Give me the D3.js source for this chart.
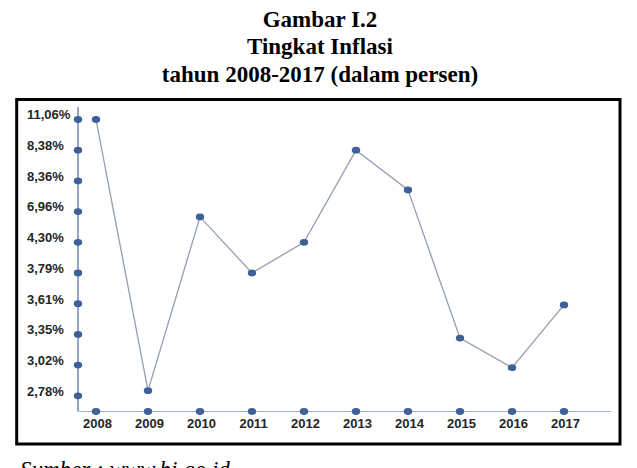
<!DOCTYPE html>
<html>
<head>
<meta charset="utf-8">
<script src="https://cdn.jsdelivr.net/npm/d3@7"></script>
<style>
    body { margin: 0; background: #fff; }
    .title { font-family: "Liberation Serif", "Times New Roman", serif; font-weight: bold; font-size: 23px; }
    .source { font-family: "Liberation Serif", "Times New Roman", serif; font-style: italic; font-size: 23px; }
    .axis text { font-family: "Liberation Sans", Arial, sans-serif; font-weight: bold; font-size: 13px; fill: #262626; }
</style>
</head>
<body>
<div id="chart"></div>
<script>
// inflation per year
var years = ["2008", "2009", "2010", "2011", "2012", "2013", "2014", "2015", "2016", "2017"];
var inflation = [11.06, 2.82, 6.5, 3.79, 4.30, 8.38, 7.95, 3.31, 3.0, 3.6];

// the y axis shows these labels at equal spacing (top to bottom)
var yTickValues = [11.06, 8.38, 8.36, 6.96, 4.30, 3.79, 3.61, 3.35, 3.02, 2.78];
var yTickLabels = ["11,06%", "8,38%", "8,36%", "6,96%", "4,30%", "3,79%", "3,61%", "3,35%", "3,02%", "2,78%"];

var titleLines = ["Gambar I.2", "Tingkat Inflasi", "tahun 2008-2017 (dalam persen)"];

function init() {
    var w = 637;
    var h = 468;
    var dataset = years.map(function(y, i) { return { year: y, value: inflation[i] }; });

    var svg = d3.select("#chart")
        .append("svg")
        .attr("width", w)
        .attr("height", h);

    svg.selectAll(".title")
        .data(titleLines)
        .enter()
        .append("text")
        .attr("class", "title")
        .attr("x", 320)
        .attr("y", function(d, i) { return 26.5 + i * 27.5; })
        .attr("text-anchor", "middle")
        .text(function(d) { return d; });

    // frame round the chart
    svg.append("rect")
        .attr("x", 16.7)
        .attr("y", 99.5)
        .attr("width", 603.3)
        .attr("height", 344.5)
        .attr("fill", "none")
        .attr("stroke", "#000")
        .attr("stroke-width", 3);

    var axisX = 78;
    var axisY = 411.5;
    var top = 119.5;
    var step = 30.7;

    var xScale = d3.scalePoint()
        .domain(years)
        .range([96, 564]);

    // labels are evenly spaced, so the scale is piecewise linear between them
    var yScale = d3.scaleLinear()
        .domain(yTickValues)
        .range(yTickValues.map(function(d, i) { return top + i * step; }));

    // axis lines
    svg.append("line")
        .attr("x1", axisX).attr("y1", 107)
        .attr("x2", axisX).attr("y2", axisY)
        .attr("stroke", "#4a6cab")
        .attr("stroke-width", 1.2);

    svg.append("line")
        .attr("x1", axisX).attr("y1", axisY)
        .attr("x2", 611).attr("y2", axisY)
        .attr("stroke", "#a9b6c9")
        .attr("stroke-width", 1.2);

    var yAxis = d3.axisLeft(yScale)
        .tickValues(yTickValues)
        .tickSize(0)
        .tickFormat(function(d, i) { return yTickLabels[i]; });

    var gy = svg.append("g")
        .attr("class", "y axis")
        .attr("transform", "translate(" + axisX + ",0)")
        .call(yAxis);
    gy.select(".domain").remove();
    gy.selectAll("text")
        .attr("x", 27 - axisX)
        .attr("dy", "-0.05em")
        .attr("text-anchor", "start");

    var xAxis = d3.axisBottom(xScale).tickSize(0).tickPadding(7);
    var gx = svg.append("g")
        .attr("class", "x axis")
        .attr("transform", "translate(0," + axisY + ")")
        .call(xAxis);
    gx.select(".domain").remove();
    gx.selectAll("text").attr("dx", 1);

    // dots on the axes
    svg.selectAll(".ydot")
        .data(yTickValues)
        .enter()
        .append("ellipse")
        .attr("class", "ydot")
        .attr("cx", axisX)
        .attr("cy", function(d) { return yScale(d); })
        .attr("rx", 4.2)
        .attr("ry", 3.4)
        .attr("fill", "#3f5f99");

    svg.selectAll(".xdot")
        .data(years)
        .enter()
        .append("ellipse")
        .attr("class", "xdot")
        .attr("cx", function(d) { return xScale(d); })
        .attr("cy", axisY)
        .attr("rx", 4.2)
        .attr("ry", 3.4)
        .attr("fill", "#3f5f99");

    var line = d3.line()
        .x(function(d) { return xScale(d.year); })
        .y(function(d) { return yScale(d.value); });

    svg.append("path")
        .datum(dataset)
        .attr("fill", "none")
        .attr("stroke", "#939db0")
        .attr("stroke-width", 1.3)
        .attr("d", line);

    svg.selectAll(".point")
        .data(dataset)
        .enter()
        .append("ellipse")
        .attr("class", "point")
        .attr("cx", function(d) { return xScale(d.year); })
        .attr("cy", function(d) { return yScale(d.value); })
        .attr("rx", 4.2)
        .attr("ry", 3.4)
        .attr("fill", "#3f5f99");

    // source line sits at the bottom edge, cut off as in the scan
    svg.append("text")
        .attr("class", "source")
        .attr("x", 20)
        .attr("y", 477)
        .text("Sumber : www.bi.go.id");
}

window.onload = init;
</script>
</body>
</html>
